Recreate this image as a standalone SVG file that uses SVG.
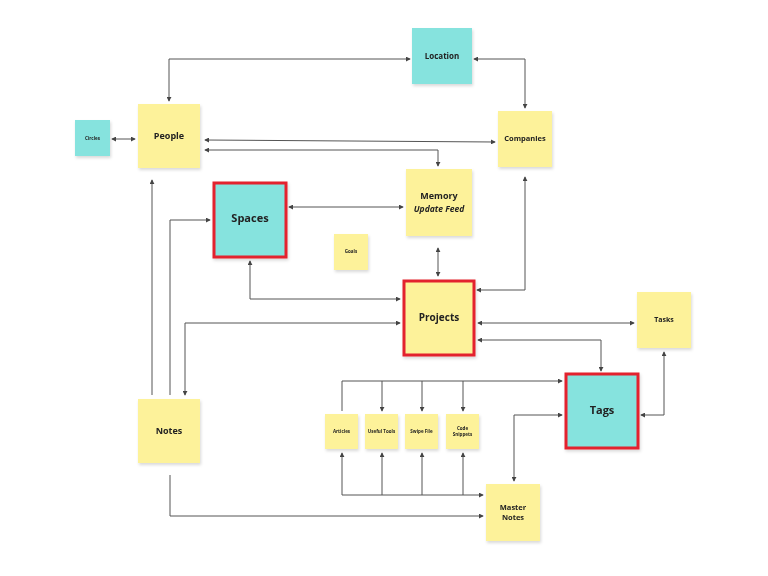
<svg xmlns="http://www.w3.org/2000/svg" width="768" height="576" viewBox="0 0 768 576">
<style>
.y{fill:#fdf29a}.t{fill:#86e3de}.r{stroke:#e3202f;stroke-width:3}
.lb{font-family:"Open Sans","Noto Sans",sans-serif;font-weight:bold;fill:#222;text-anchor:middle}
.c{fill:none;stroke:#555;stroke-width:1}
</style>
<defs>
<marker id="a" viewBox="0 0 6 6" refX="5" refY="3" markerWidth="5" markerHeight="5" orient="auto-start-reverse"><path d="M0,0L6,3L0,6z" fill="#444"/></marker>
<filter id="s" x="-10%" y="-10%" width="130%" height="130%"><feDropShadow dx="1" dy="2" stdDeviation="1.5" flood-opacity="0.15"/></filter>
</defs>
<rect width="768" height="576" fill="#fff"/>
<g id="connectors" class="c" marker-end="url(#a)">
<path d="M169,101V59H410" marker-start="url(#a)"/>
<path d="M474,59H525V108" marker-start="url(#a)"/>
<path d="M112,139H135" marker-start="url(#a)"/>
<path d="M205,140L495,142" marker-start="url(#a)"/>
<path d="M205,150H438V166" marker-start="url(#a)"/>
<path d="M289,207H403" marker-start="url(#a)"/>
<path d="M438,248V276" marker-start="url(#a)"/>
<path d="M525,177V290H477" marker-start="url(#a)"/>
<path d="M250,261V299H400" marker-start="url(#a)"/>
<path d="M152,395V180"/>
<path d="M170,395V220H210"/>
<path d="M400,323H185V395" marker-start="url(#a)"/>
<path d="M478,323H634" marker-start="url(#a)"/>
<path d="M478,340H601V371" marker-start="url(#a)"/>
<path d="M641,415H664V352" marker-start="url(#a)"/>
<path d="M342,411V381H562"/>
<path d="M382,381V411"/><path d="M422,381V411"/><path d="M463,381V411"/>
<path d="M514,481V415H562" marker-start="url(#a)"/>
<path d="M342,453V495H483" marker-start="url(#a)"/>
<path d="M382,495V453"/><path d="M422,495V453"/><path d="M463,495V453"/>
<path d="M170,475V516H483"/>
</g>
<g filter="url(#s)">
<g id="location"><rect class="t" x="412" y="28" width="60" height="56"/><text class="lb" x="442" y="59" font-size="8">Location</text></g>
<g id="circles"><rect class="t" x="75" y="120" width="35" height="36"/><text class="lb" x="92.5" y="140" font-size="4.5">Circles</text></g>
<g id="people"><rect class="y" x="138" y="104" width="62" height="64"/><text class="lb" x="169" y="139" font-size="9">People</text></g>
<g id="companies"><rect class="y" x="498" y="111" width="54" height="56"/><text class="lb" x="525" y="141" font-size="7.5">Companies</text></g>
<g id="memory"><rect class="y" x="406" y="169" width="66" height="67"/><text class="lb" x="439" y="199" font-size="9">Memory</text><text class="lb" x="439" y="212" font-size="8.5" font-weight="normal" font-style="italic">Update Feed</text></g>
<g id="spaces"><rect class="t r" x="214" y="183" width="72" height="74"/><text class="lb" x="250" y="222" font-size="11">Spaces</text></g>
<g id="goals"><rect class="y" x="334" y="234" width="34" height="36"/><text class="lb" x="351" y="253" font-size="4.5">Goals</text></g>
<g id="projects"><rect class="y r" x="404" y="281" width="70" height="74"/><text class="lb" x="439" y="321" font-size="10">Projects</text></g>
<g id="tasks"><rect class="y" x="637" y="292" width="54" height="56"/><text class="lb" x="664" y="322" font-size="7">Tasks</text></g>
<g id="tags"><rect class="t r" x="566" y="374" width="72" height="74"/><text class="lb" x="602" y="414" font-size="11">Tags</text></g>
<g id="notes"><rect class="y" x="138" y="399" width="62" height="64"/><text class="lb" x="169" y="434" font-size="9">Notes</text></g>
<g id="articles"><rect class="y" x="325" y="414" width="33" height="35"/><text class="lb" x="341.5" y="433" font-size="4.5">Articles</text></g>
<g id="useful-tools"><rect class="y" x="365" y="414" width="33" height="35"/><text class="lb" x="381.5" y="433" font-size="4.5">Useful Tools</text></g>
<g id="swipe-file"><rect class="y" x="405" y="414" width="33" height="35"/><text class="lb" x="421.5" y="433" font-size="4.5">Swipe File</text></g>
<g id="code-snippets"><rect class="y" x="446" y="414" width="33" height="35"/><text class="lb" x="462.5" y="430" font-size="4.5">Code</text><text class="lb" x="462.5" y="436" font-size="4.5">Snippets</text></g>
<g id="master-notes"><rect class="y" x="486" y="484" width="54" height="57"/><text class="lb" x="513" y="510" font-size="7.5">Master</text><text class="lb" x="513" y="520" font-size="7.5">Notes</text></g>
</g>
</svg>
